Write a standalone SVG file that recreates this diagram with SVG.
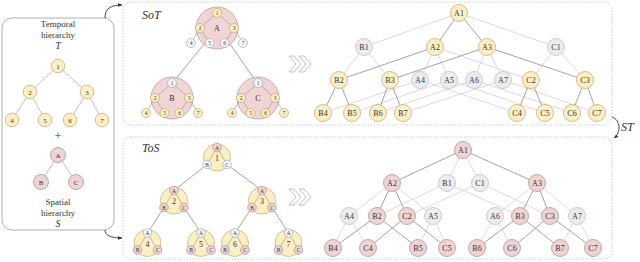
<svg xmlns="http://www.w3.org/2000/svg" width="640" height="262" viewBox="0 0 640 262">
<defs>
<style>
text{font-family:"Liberation Serif","Times New Roman",serif;fill:#333;text-anchor:middle}
.y{fill:#fcefc4;stroke:#c6ae78;stroke-width:0.8}
.p{fill:#eed4d4;stroke:#b99494;stroke-width:0.8}
.g{fill:#ececec;stroke:#c2c2c2;stroke-width:0.8}
.w{fill:#f7f7f7;stroke:#a8a8a8;stroke-width:0.7}
.bigp{fill:#efd5d5;stroke:#bf9c9c;stroke-width:0.8}
.bigy{fill:#fcefc4;stroke:#c9b27e;stroke-width:0.8}
.ed{stroke:#8c8c8c;stroke-width:0.8;fill:none}
.el{stroke:#d0d0d0;stroke-width:0.8;fill:none}
.ec{stroke:#9a8f8f;stroke-width:0.6;fill:none}
.box{fill:#fff;stroke:#bdbdbd;stroke-width:0.8;stroke-dasharray:1.5 1.5}
.n8{font-size:8px}
.n7{font-size:7px}
.n5{font-size:5.5px}
.lab{font-size:12px;font-style:italic;text-anchor:start}
.chev{fill:#fff;stroke:#b0b0b0;stroke-width:0.8}
</style>
<marker id="arr" viewBox="0 0 10 10" refX="9" refY="5" markerWidth="5" markerHeight="5" orient="auto"><path d="M0,1 L10,5 L0,9 z" fill="#333"/></marker>
</defs>
<rect width="640" height="262" fill="#fff"/>

<!-- boxes -->
<rect x="2" y="18" width="112" height="212" rx="10" fill="#fff" stroke="#9a9a9a" stroke-width="0.8"/>
<rect class="box" x="123" y="2" width="489" height="123" rx="8"/>
<rect class="box" x="123" y="137" width="489" height="122" rx="8"/>

<!-- panel labels -->
<text class="lab" x="142" y="19">SoT</text>
<text class="lab" x="142" y="152">ToS</text>
<text class="lab" x="621" y="131">ST</text>

<!-- chevrons -->
<g id="chev-top">
<polygon class="chev" points="289,56 294,56 301,64 294,72 289,72 296,64"/>
<polygon class="chev" points="299,56 304,56 311,64 304,72 299,72 306,64"/>
</g>
<g id="chev-bot">
<polygon class="chev" points="289,189 294,189 301,197 294,205 289,205 296,197"/>
<polygon class="chev" points="299,189 304,189 311,197 304,205 299,205 306,197"/>
</g>

<!-- connectors -->
<g id="connectors">
<!-- outer arrows -->
<path d="M105,18 C105,9 110,5 122,5" stroke="#333" stroke-width="0.9" fill="none" marker-end="url(#arr)"/>
<path d="M105,230 C105,235 110,238 122,238" stroke="#333" stroke-width="0.9" fill="none" marker-end="url(#arr)"/>
<path d="M612,117 C621,120 621,133 614,138" stroke="#333" stroke-width="0.9" fill="none" marker-end="url(#arr)"/>

<!-- left panel -->
<g stroke="#a6a6a6" stroke-width="0.7">
<line x1="58" y1="66" x2="30" y2="92"/><line x1="58" y1="66" x2="87" y2="92"/>
<line x1="30" y1="92" x2="12" y2="120"/><line x1="30" y1="92" x2="45" y2="120"/>
<line x1="87" y1="92" x2="70" y2="120"/><line x1="87" y1="92" x2="102" y2="120"/>
<line x1="58" y1="155" x2="41" y2="182"/><line x1="58" y1="155" x2="76" y2="182"/>
</g>

<!-- SoT clusters -->
<line class="ed" x1="203.8" y1="44.3" x2="175.1" y2="79.8"/>
<line class="ed" x1="230.2" y1="44.3" x2="254.9" y2="79.8"/>

<!-- ToS clusters -->
<line class="ed" x1="207" y1="164.5" x2="174" y2="190.5"/>
<line class="ed" x1="227" y1="164.5" x2="262" y2="190.5"/>
<line class="ed" x1="164" y1="207.5" x2="147.5" y2="233"/>
<line class="ed" x1="184" y1="207.5" x2="201" y2="233"/>
<line class="ed" x1="252" y1="207.5" x2="235" y2="233"/>
<line class="ed" x1="272" y1="207.5" x2="288.5" y2="233"/>

<!-- SoT graph light -->
<line class="el" x1="459" y1="13" x2="364" y2="47"/>
<line class="el" x1="459" y1="13" x2="556" y2="47"/>
<line class="el" x1="435" y1="47" x2="420" y2="80"/>
<line class="el" x1="435" y1="47" x2="449" y2="80"/>
<line class="el" x1="487" y1="47" x2="474" y2="80"/>
<line class="el" x1="487" y1="47" x2="503" y2="80"/>
<line class="el" x1="364" y1="47" x2="339" y2="80"/>
<line class="el" x1="364" y1="47" x2="390" y2="80"/>
<line class="el" x1="556" y1="47" x2="531" y2="80"/>
<line class="el" x1="556" y1="47" x2="585" y2="80"/>
<line class="el" x1="420" y1="80" x2="323" y2="113"/>
<line class="el" x1="420" y1="80" x2="517" y2="113"/>
<line class="el" x1="449" y1="80" x2="352" y2="113"/>
<line class="el" x1="449" y1="80" x2="545" y2="113"/>
<line class="el" x1="474" y1="80" x2="378" y2="113"/>
<line class="el" x1="474" y1="80" x2="572" y2="113"/>
<line class="el" x1="503" y1="80" x2="403" y2="113"/>
<line class="el" x1="503" y1="80" x2="597" y2="113"/>
<line class="el" x1="435" y1="47" x2="531" y2="80"/>
<!-- SoT graph dark -->
<line class="ed" x1="459" y1="13" x2="435" y2="47"/>
<line class="ed" x1="459" y1="13" x2="487" y2="47"/>
<line class="ed" x1="435" y1="47" x2="339" y2="80"/>
<line class="ed" x1="487" y1="47" x2="390" y2="80"/>
<line class="ed" x1="487" y1="47" x2="585" y2="80"/>
<line class="ed" x1="339" y1="80" x2="323" y2="113"/>
<line class="ed" x1="339" y1="80" x2="352" y2="113"/>
<line class="ed" x1="390" y1="80" x2="378" y2="113"/>
<line class="ed" x1="390" y1="80" x2="403" y2="113"/>
<line class="ed" x1="531" y1="80" x2="517" y2="113"/>
<line class="ed" x1="531" y1="80" x2="545" y2="113"/>
<line class="ed" x1="585" y1="80" x2="572" y2="113"/>
<line class="ed" x1="585" y1="80" x2="597" y2="113"/>

<!-- ToS graph light -->
<line class="el" x1="463" y1="150" x2="447" y2="183"/>
<line class="el" x1="463" y1="150" x2="480" y2="183"/>
<line class="el" x1="392" y1="183" x2="349" y2="216"/>
<line class="el" x1="392" y1="183" x2="433" y2="216"/>
<line class="el" x1="537" y1="183" x2="495" y2="216"/>
<line class="el" x1="537" y1="183" x2="577" y2="216"/>
<line class="el" x1="447" y1="183" x2="377" y2="216"/>
<line class="el" x1="447" y1="183" x2="520" y2="216"/>
<line class="el" x1="480" y1="183" x2="407" y2="216"/>
<line class="el" x1="480" y1="183" x2="550" y2="216"/>
<line class="el" x1="349" y1="216" x2="333" y2="248"/>
<line class="el" x1="349" y1="216" x2="368" y2="248"/>
<line class="el" x1="433" y1="216" x2="418" y2="248"/>
<line class="el" x1="433" y1="216" x2="447" y2="248"/>
<line class="el" x1="495" y1="216" x2="477" y2="248"/>
<line class="el" x1="495" y1="216" x2="512" y2="248"/>
<line class="el" x1="577" y1="216" x2="560" y2="248"/>
<line class="el" x1="577" y1="216" x2="593" y2="248"/>
<!-- ToS graph dark -->
<line class="ed" x1="463" y1="150" x2="392" y2="183"/>
<line class="ed" x1="463" y1="150" x2="537" y2="183"/>
<line class="ed" x1="392" y1="183" x2="377" y2="216"/>
<line class="ed" x1="392" y1="183" x2="407" y2="216"/>
<line class="ed" x1="537" y1="183" x2="520" y2="216"/>
<line class="ed" x1="537" y1="183" x2="550" y2="216"/>
<line class="ed" x1="377" y1="216" x2="333" y2="248"/>
<line class="ed" x1="377" y1="216" x2="418" y2="248"/>
<line class="ed" x1="407" y1="216" x2="368" y2="248"/>
<line class="ed" x1="407" y1="216" x2="447" y2="248"/>
<line class="ed" x1="520" y1="216" x2="477" y2="248"/>
<line class="ed" x1="520" y1="216" x2="560" y2="248"/>
<line class="ed" x1="550" y1="216" x2="512" y2="248"/>
<line class="ed" x1="550" y1="216" x2="593" y2="248"/>
</g>

<!-- left panel nodes -->
<g id="left-panel">
<text style="font-size:9px" x="58" y="27">Temporal</text>
<text style="font-size:9px" x="58" y="38">hierarchy</text>
<text style="font-size:10px;font-style:italic" x="58" y="49">T</text>
<text style="font-size:12px" x="58" y="140">+</text>
<text style="font-size:9px" x="58" y="205">Spatial</text>
<text style="font-size:9px" x="58" y="216">hierarchy</text>
<text style="font-size:10px;font-style:italic" x="58" y="227">S</text>
</g>
<g id="T1"><circle class="y" cx="58" cy="66" r="6.8"/><text class="n7" x="58" y="68.5">1</text></g>
<g id="T2"><circle class="y" cx="30" cy="92" r="6.8"/><text class="n7" x="30" y="94.5">2</text></g>
<g id="T3"><circle class="y" cx="87" cy="92" r="6.8"/><text class="n7" x="87" y="94.5">3</text></g>
<g id="T4"><circle class="y" cx="12" cy="120" r="6.8"/><text class="n7" x="12" y="122.5">4</text></g>
<g id="T5"><circle class="y" cx="45" cy="120" r="6.8"/><text class="n7" x="45" y="122.5">5</text></g>
<g id="T6"><circle class="y" cx="70" cy="120" r="6.8"/><text class="n7" x="70" y="122.5">6</text></g>
<g id="T7"><circle class="y" cx="102" cy="120" r="6.8"/><text class="n7" x="102" y="122.5">7</text></g>
<g id="SA"><circle class="p" cx="58" cy="155" r="7.5"/><text class="n7" x="58" y="157.5">A</text></g>
<g id="SB"><circle class="p" cx="41" cy="182" r="7.5"/><text class="n7" x="41" y="184.5">B</text></g>
<g id="SC"><circle class="p" cx="76" cy="182" r="7.5"/><text class="n7" x="76" y="184.5">C</text></g>

<!-- SoT clusters -->
<g id="sot-A">
<circle class="bigp" cx="217" cy="28" r="21"/>
<text class="n8" x="217" y="31" fill="#555">A</text>
<g class="ec"><line x1="217" y1="13" x2="200" y2="28"/><line x1="217" y1="13" x2="234" y2="28"/><line x1="200" y1="28" x2="191" y2="43"/><line x1="200" y1="28" x2="209.5" y2="43"/><line x1="234" y1="28" x2="224.5" y2="43"/><line x1="234" y1="28" x2="243" y2="43"/></g>
<circle class="y" cx="217" cy="13" r="4.5"/><text class="n5" x="217" y="15">1</text>
<circle class="y" cx="200" cy="28" r="4.5"/><text class="n5" x="200" y="30">2</text>
<circle class="y" cx="234" cy="28" r="4.5"/><text class="n5" x="234" y="30">3</text>
<circle class="w" cx="191" cy="43" r="4.5"/><text class="n5" x="191" y="45">4</text>
<circle class="w" cx="209.5" cy="43" r="4.5"/><text class="n5" x="209.5" y="45">5</text>
<circle class="w" cx="224.5" cy="43" r="4.5"/><text class="n5" x="224.5" y="45">6</text>
<circle class="w" cx="243" cy="43" r="4.5"/><text class="n5" x="243" y="45">7</text>
</g>
<g id="sot-B">
<circle class="bigp" cx="172" cy="98" r="21"/>
<text class="n8" x="172" y="101" fill="#555">B</text>
<g class="ec"><line x1="172" y1="83" x2="155" y2="98"/><line x1="172" y1="83" x2="189" y2="98"/><line x1="155" y1="98" x2="146" y2="113"/><line x1="155" y1="98" x2="164.5" y2="113"/><line x1="189" y1="98" x2="179.5" y2="113"/><line x1="189" y1="98" x2="198" y2="113"/></g>
<circle class="w" cx="172" cy="83" r="4.5"/><text class="n5" x="172" y="85">1</text>
<circle class="y" cx="155" cy="98" r="4.5"/><text class="n5" x="155" y="100">2</text>
<circle class="y" cx="189" cy="98" r="4.5"/><text class="n5" x="189" y="100">3</text>
<circle class="y" cx="146" cy="113" r="4.5"/><text class="n5" x="146" y="115">4</text>
<circle class="y" cx="164.5" cy="113" r="4.5"/><text class="n5" x="164.5" y="115">5</text>
<circle class="y" cx="179.5" cy="113" r="4.5"/><text class="n5" x="179.5" y="115">6</text>
<circle class="y" cx="198" cy="113" r="4.5"/><text class="n5" x="198" y="115">7</text>
</g>
<g id="sot-C">
<circle class="bigp" cx="258" cy="98" r="21"/>
<text class="n8" x="258" y="101" fill="#555">C</text>
<g class="ec"><line x1="258" y1="83" x2="241" y2="98"/><line x1="258" y1="83" x2="275" y2="98"/><line x1="241" y1="98" x2="232" y2="113"/><line x1="241" y1="98" x2="250.5" y2="113"/><line x1="275" y1="98" x2="265.5" y2="113"/><line x1="275" y1="98" x2="284" y2="113"/></g>
<circle class="w" cx="258" cy="83" r="4.5"/><text class="n5" x="258" y="85">1</text>
<circle class="y" cx="241" cy="98" r="4.5"/><text class="n5" x="241" y="100">2</text>
<circle class="y" cx="275" cy="98" r="4.5"/><text class="n5" x="275" y="100">3</text>
<circle class="y" cx="232" cy="113" r="4.5"/><text class="n5" x="232" y="115">4</text>
<circle class="y" cx="250.5" cy="113" r="4.5"/><text class="n5" x="250.5" y="115">5</text>
<circle class="y" cx="265.5" cy="113" r="4.5"/><text class="n5" x="265.5" y="115">6</text>
<circle class="y" cx="284" cy="113" r="4.5"/><text class="n5" x="284" y="115">7</text>
</g>

<!-- ToS clusters -->
<g id="tos-1"><circle class="bigy" cx="217" cy="157.5" r="13.5"/><g class="ec"><line x1="217" y1="147.5" x2="207" y2="164.5"/><line x1="217" y1="147.5" x2="227" y2="164.5"/></g><text class="n8" x="217" y="161">1</text><circle class="p" cx="217" cy="147.5" r="4.3"/><text class="n5" x="217" y="149.5">A</text><circle class="w" cx="207" cy="164.5" r="4.3"/><text class="n5" x="207" y="166.5">B</text><circle class="w" cx="227" cy="164.5" r="4.3"/><text class="n5" x="227" y="166.5">C</text></g>
<g id="tos-2"><circle class="bigy" cx="174" cy="200.5" r="13.5"/><g class="ec"><line x1="174" y1="190.5" x2="164" y2="207.5"/><line x1="174" y1="190.5" x2="184" y2="207.5"/></g><text class="n8" x="174" y="204">2</text><circle class="p" cx="174" cy="190.5" r="4.3"/><text class="n5" x="174" y="192.5">A</text><circle class="p" cx="164" cy="207.5" r="4.3"/><text class="n5" x="164" y="209.5">B</text><circle class="p" cx="184" cy="207.5" r="4.3"/><text class="n5" x="184" y="209.5">C</text></g>
<g id="tos-3"><circle class="bigy" cx="262" cy="200.5" r="13.5"/><g class="ec"><line x1="262" y1="190.5" x2="252" y2="207.5"/><line x1="262" y1="190.5" x2="272" y2="207.5"/></g><text class="n8" x="262" y="204">3</text><circle class="p" cx="262" cy="190.5" r="4.3"/><text class="n5" x="262" y="192.5">A</text><circle class="p" cx="252" cy="207.5" r="4.3"/><text class="n5" x="252" y="209.5">B</text><circle class="p" cx="272" cy="207.5" r="4.3"/><text class="n5" x="272" y="209.5">C</text></g>
<g id="tos-4"><circle class="bigy" cx="147.5" cy="243" r="13.5"/><g class="ec"><line x1="147.5" y1="233" x2="137.5" y2="250"/><line x1="147.5" y1="233" x2="157.5" y2="250"/></g><text class="n8" x="147.5" y="246.5">4</text><circle class="w" cx="147.5" cy="233" r="4.3"/><text class="n5" x="147.5" y="235">A</text><circle class="p" cx="137.5" cy="250" r="4.3"/><text class="n5" x="137.5" y="252">B</text><circle class="p" cx="157.5" cy="250" r="4.3"/><text class="n5" x="157.5" y="252">C</text></g>
<g id="tos-5"><circle class="bigy" cx="201" cy="243" r="13.5"/><g class="ec"><line x1="201" y1="233" x2="191" y2="250"/><line x1="201" y1="233" x2="211" y2="250"/></g><text class="n8" x="201" y="246.5">5</text><circle class="w" cx="201" cy="233" r="4.3"/><text class="n5" x="201" y="235">A</text><circle class="p" cx="191" cy="250" r="4.3"/><text class="n5" x="191" y="252">B</text><circle class="p" cx="211" cy="250" r="4.3"/><text class="n5" x="211" y="252">C</text></g>
<g id="tos-6"><circle class="bigy" cx="235" cy="243" r="13.5"/><g class="ec"><line x1="235" y1="233" x2="225" y2="250"/><line x1="235" y1="233" x2="245" y2="250"/></g><text class="n8" x="235" y="246.5">6</text><circle class="w" cx="235" cy="233" r="4.3"/><text class="n5" x="235" y="235">A</text><circle class="p" cx="225" cy="250" r="4.3"/><text class="n5" x="225" y="252">B</text><circle class="p" cx="245" cy="250" r="4.3"/><text class="n5" x="245" y="252">C</text></g>
<g id="tos-7"><circle class="bigy" cx="288.5" cy="243" r="13.5"/><g class="ec"><line x1="288.5" y1="233" x2="278.5" y2="250"/><line x1="288.5" y1="233" x2="298.5" y2="250"/></g><text class="n8" x="288.5" y="246.5">7</text><circle class="w" cx="288.5" cy="233" r="4.3"/><text class="n5" x="288.5" y="235">A</text><circle class="p" cx="278.5" cy="250" r="4.3"/><text class="n5" x="278.5" y="252">B</text><circle class="p" cx="298.5" cy="250" r="4.3"/><text class="n5" x="298.5" y="252">C</text></g>

<!-- SoT graph nodes -->
<g id="s-A1"><circle class="y" cx="459" cy="13" r="8.5"/><text class="n8" x="459" y="15.8">A1</text></g>
<g id="s-B1"><circle class="g" cx="364" cy="47" r="8.5"/><text class="n8" x="364" y="49.8">B1</text></g>
<g id="s-A2"><circle class="y" cx="435" cy="47" r="8.5"/><text class="n8" x="435" y="49.8">A2</text></g>
<g id="s-A3"><circle class="y" cx="487" cy="47" r="8.5"/><text class="n8" x="487" y="49.8">A3</text></g>
<g id="s-C1"><circle class="g" cx="556" cy="47" r="8.5"/><text class="n8" x="556" y="49.8">C1</text></g>
<g id="s-B2"><circle class="y" cx="339" cy="80" r="8.5"/><text class="n8" x="339" y="82.8">B2</text></g>
<g id="s-B3"><circle class="y" cx="390" cy="80" r="8.5"/><text class="n8" x="390" y="82.8">B3</text></g>
<g id="s-A4"><circle class="g" cx="420" cy="80" r="8.5"/><text class="n8" x="420" y="82.8">A4</text></g>
<g id="s-A5"><circle class="g" cx="449" cy="80" r="8.5"/><text class="n8" x="449" y="82.8">A5</text></g>
<g id="s-A6"><circle class="g" cx="474" cy="80" r="8.5"/><text class="n8" x="474" y="82.8">A6</text></g>
<g id="s-A7"><circle class="g" cx="503" cy="80" r="8.5"/><text class="n8" x="503" y="82.8">A7</text></g>
<g id="s-C2"><circle class="y" cx="531" cy="80" r="8.5"/><text class="n8" x="531" y="82.8">C2</text></g>
<g id="s-C3"><circle class="y" cx="585" cy="80" r="8.5"/><text class="n8" x="585" y="82.8">C3</text></g>
<g id="s-B4"><circle class="y" cx="323" cy="113" r="8.5"/><text class="n8" x="323" y="115.8">B4</text></g>
<g id="s-B5"><circle class="y" cx="352" cy="113" r="8.5"/><text class="n8" x="352" y="115.8">B5</text></g>
<g id="s-B6"><circle class="y" cx="378" cy="113" r="8.5"/><text class="n8" x="378" y="115.8">B6</text></g>
<g id="s-B7"><circle class="y" cx="403" cy="113" r="8.5"/><text class="n8" x="403" y="115.8">B7</text></g>
<g id="s-C4"><circle class="y" cx="517" cy="113" r="8.5"/><text class="n8" x="517" y="115.8">C4</text></g>
<g id="s-C5"><circle class="y" cx="545" cy="113" r="8.5"/><text class="n8" x="545" y="115.8">C5</text></g>
<g id="s-C6"><circle class="y" cx="572" cy="113" r="8.5"/><text class="n8" x="572" y="115.8">C6</text></g>
<g id="s-C7"><circle class="y" cx="597" cy="113" r="8.5"/><text class="n8" x="597" y="115.8">C7</text></g>

<!-- ToS graph nodes -->
<g id="t-A1"><circle class="p" cx="463" cy="150" r="8.5"/><text class="n8" x="463" y="152.8">A1</text></g>
<g id="t-A2"><circle class="p" cx="392" cy="183" r="8.5"/><text class="n8" x="392" y="185.8">A2</text></g>
<g id="t-B1"><circle class="g" cx="447" cy="183" r="8.5"/><text class="n8" x="447" y="185.8">B1</text></g>
<g id="t-C1"><circle class="g" cx="480" cy="183" r="8.5"/><text class="n8" x="480" y="185.8">C1</text></g>
<g id="t-A3"><circle class="p" cx="537" cy="183" r="8.5"/><text class="n8" x="537" y="185.8">A3</text></g>
<g id="t-A4"><circle class="g" cx="349" cy="216" r="8.5"/><text class="n8" x="349" y="218.8">A4</text></g>
<g id="t-B2"><circle class="p" cx="377" cy="216" r="8.5"/><text class="n8" x="377" y="218.8">B2</text></g>
<g id="t-C2"><circle class="p" cx="407" cy="216" r="8.5"/><text class="n8" x="407" y="218.8">C2</text></g>
<g id="t-A5"><circle class="g" cx="433" cy="216" r="8.5"/><text class="n8" x="433" y="218.8">A5</text></g>
<g id="t-A6"><circle class="g" cx="495" cy="216" r="8.5"/><text class="n8" x="495" y="218.8">A6</text></g>
<g id="t-B3"><circle class="p" cx="520" cy="216" r="8.5"/><text class="n8" x="520" y="218.8">B3</text></g>
<g id="t-C3"><circle class="p" cx="550" cy="216" r="8.5"/><text class="n8" x="550" y="218.8">C3</text></g>
<g id="t-A7"><circle class="g" cx="577" cy="216" r="8.5"/><text class="n8" x="577" y="218.8">A7</text></g>
<g id="t-B4"><circle class="p" cx="333" cy="248" r="8.5"/><text class="n8" x="333" y="250.8">B4</text></g>
<g id="t-C4"><circle class="p" cx="368" cy="248" r="8.5"/><text class="n8" x="368" y="250.8">C4</text></g>
<g id="t-B5"><circle class="p" cx="418" cy="248" r="8.5"/><text class="n8" x="418" y="250.8">B5</text></g>
<g id="t-C5"><circle class="p" cx="447" cy="248" r="8.5"/><text class="n8" x="447" y="250.8">C5</text></g>
<g id="t-B6"><circle class="p" cx="477" cy="248" r="8.5"/><text class="n8" x="477" y="250.8">B6</text></g>
<g id="t-C6"><circle class="p" cx="512" cy="248" r="8.5"/><text class="n8" x="512" y="250.8">C6</text></g>
<g id="t-B7"><circle class="p" cx="560" cy="248" r="8.5"/><text class="n8" x="560" y="250.8">B7</text></g>
<g id="t-C7"><circle class="p" cx="593" cy="248" r="8.5"/><text class="n8" x="593" y="250.8">C7</text></g>
</svg>
